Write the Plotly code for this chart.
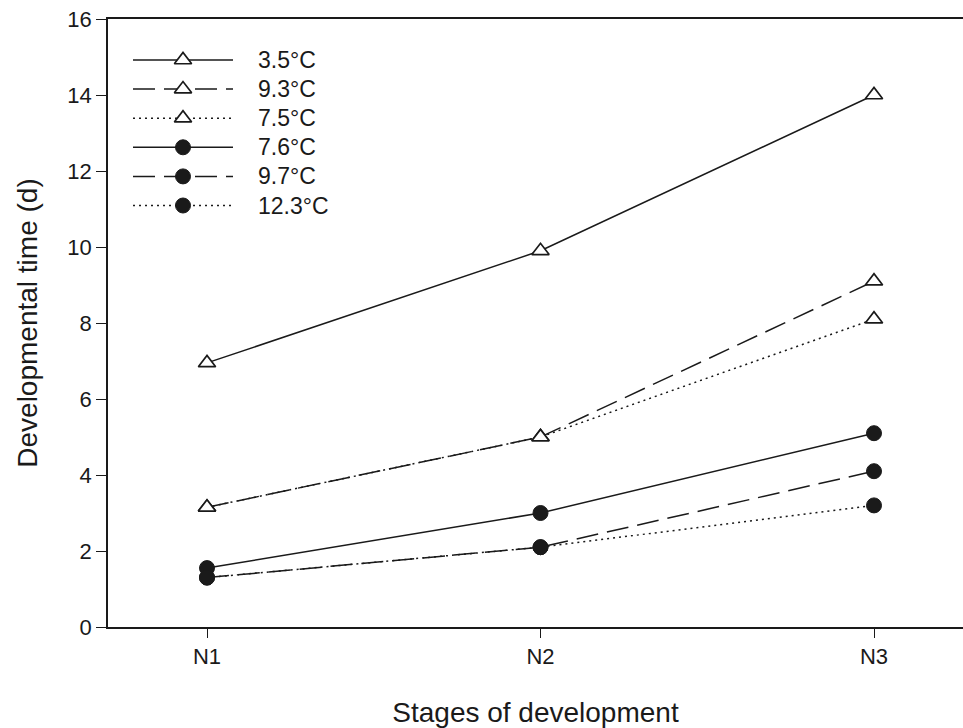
import plotly.graph_objects as go

stages = ["N1", "N2", "N3"]
temps = ["3.5°C", "9.3°C", "7.5°C", "7.6°C", "9.7°C", "12.3°C"]
values = {
    "3.5°C": [6.95, 9.9, 14.0],
    "9.3°C": [3.15, 5.0, 9.1],
    "7.5°C": [3.15, 5.0, 8.1],
    "7.6°C": [1.55, 3.0, 5.1],
    "9.7°C": [1.3, 2.1, 4.1],
    "12.3°C": [1.3, 2.1, 3.2],
}
y_ticks = [0, 2, 4, 6, 8, 10, 12, 14, 16]

dashes = {"3.5°C": "solid", "9.3°C": "22px,9px", "7.5°C": "2px,4px",
          "7.6°C": "solid", "9.7°C": "22px,9px", "12.3°C": "2px,4px"}
symbols = {"3.5°C": "triangle-up", "9.3°C": "triangle-up", "7.5°C": "triangle-up",
           "7.6°C": "circle", "9.7°C": "circle", "12.3°C": "circle"}

INK = "#1a1a1a"
FONT = "Liberation Sans, Arial, sans-serif"
W, H = 963, 728
L, T, B = 108, 19, 101

def marker_style(t):
    if symbols[t] == "triangle-up":
        return dict(symbol="triangle-up", size=15, color="white", line=dict(color=INK, width=1.7))
    return dict(symbol="circle", size=15, color=INK, line=dict(color=INK, width=1))

xs = list(range(len(stages)))
fig = go.Figure()
for t in temps:
    fig.add_trace(go.Scatter(x=xs, y=values[t], mode="lines", showlegend=False,
                             line=dict(color=INK, width=1.5, dash=dashes[t])))
for t in temps:
    fig.add_trace(go.Scatter(x=xs, y=values[t], mode="markers", showlegend=False,
                             marker=marker_style(t)))

# Legend drawn on an overlay axis measured in pixels
leg_x0, leg_xm, leg_x1, leg_tx = 133, 183, 233, 256
row0, row_step = 60, 29.1
for i, t in enumerate(temps):
    yy = row0 + i * row_step
    fig.add_trace(go.Scatter(x=[leg_x0, leg_x1], y=[yy, yy], mode="lines", xaxis="x2", yaxis="y2",
                             showlegend=False, hoverinfo="skip",
                             line=dict(color=INK, width=1.5, dash=dashes[t])))
    fig.add_trace(go.Scatter(x=[leg_xm], y=[yy], mode="markers", xaxis="x2", yaxis="y2",
                             showlegend=False, hoverinfo="skip", marker=marker_style(t)))
    fig.add_annotation(x=leg_tx, y=yy, xref="x2", yref="y2", text=t, showarrow=False,
                       xanchor="left", yanchor="middle", font=dict(family=FONT, size=23, color=INK))

px_per_unit = (874 - 207) / 2
x_lo = -(207 - L) / px_per_unit
x_hi = (W - 207) / px_per_unit

fig.update_layout(
    width=W, height=H,
    margin=dict(l=L, r=0, t=T, b=B),
    paper_bgcolor="white", plot_bgcolor="white",
    font=dict(family=FONT, color=INK),
    showlegend=False,
    xaxis=dict(range=[x_lo, x_hi], tickvals=xs, ticktext=stages, showgrid=False, zeroline=False,
               showline=True, linecolor=INK, linewidth=1.5, mirror=True,
               ticks="outside", ticklen=9, tickwidth=1.2, tickcolor=INK,
               ticklabelstandoff=0, tickfont=dict(size=22),
               title=dict(text="Stages of development", font=dict(size=28), standoff=34)),
    yaxis=dict(range=[0, 16], tickvals=y_ticks, showgrid=False, zeroline=False,
               showline=True, linecolor=INK, linewidth=1.5,
               ticks="outside", ticklen=10, tickwidth=1.2, tickcolor=INK,
               ticklabelstandoff=0, tickfont=dict(size=22),
               title=dict(text="Developmental time (d)", font=dict(size=28), standoff=22)),
    xaxis2=dict(overlaying="x", range=[L, W], visible=False, fixedrange=True),
    yaxis2=dict(overlaying="y", range=[H - B, T], visible=False, fixedrange=True),
)

fig.write_html("out.html", config={"displayModeBar": False},
               post_script="document.body.style.margin='0';document.body.style.overflow='hidden';")
